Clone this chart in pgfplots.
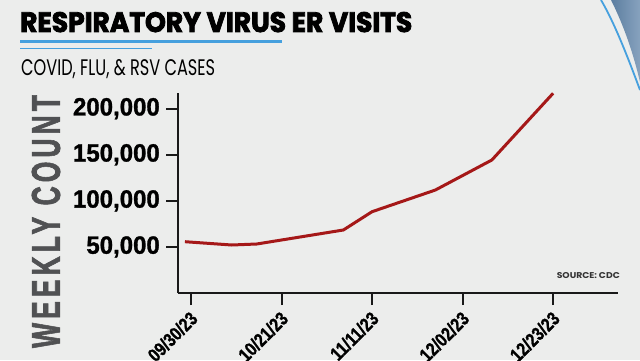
\documentclass[border=0pt]{standalone}
\usepackage{fontspec}
\usepackage{pgfplots}
\pgfplotsset{compat=1.18}
\newfontfamily\tickfont[FakeStretch=0.96, FakeBold=1.2]{Liberation Sans}
\newfontfamily\xtickfont[FakeStretch=0.82, FakeBold=1.2]{Liberation Sans}
\newfontfamily\labfont[LetterSpace=15, FakeBold=2]{Liberation Sans}
\newfontfamily\titlefont[BoldFeatures={FakeBold=3}]{Poppins}
\newfontfamily\subfont{Poppins}
\definecolor{bg}{RGB}{236,237,236}
\definecolor{lineblue}{RGB}{70,160,222}
\definecolor{steel}{RGB}{92,126,160}
\definecolor{steel2}{RGB}{135,162,190}
\definecolor{darkred}{RGB}{165,24,24}
\definecolor{labgray}{RGB}{80,81,83}
\definecolor{axblack}{RGB}{25,25,25}
\begin{document}
\begin{tikzpicture}[x=1pt,y=1pt]
\useasboundingbox (0,0) rectangle (640,360);
\fill[bg] (0,0) rectangle (640,360);
% corner decoration
\shade[left color=steel, right color=steel2] (611,360) .. controls (622,338) and (632,312) .. (640,278) -- (640,360) -- cycle;
\draw[line width=1.8pt, lineblue] (601,360) .. controls (614,338) and (627,305) .. (640,270);
% title
\node[anchor=base west, inner sep=0pt] at (20,328) {\resizebox{392pt}{20pt}{\titlefont\bfseries RESPIRATORY VIRUS ER VISITS}};
\fill[lineblue] (20,316.6) rectangle (282,320);
\fill[lineblue] (20,311.2) rectangle (152,312.4);
\node[anchor=base west, inner sep=0pt] at (21,285) {\resizebox{194pt}{16pt}{\subfont COVID, FLU, \& RSV CASES}};
% y label
\node[rotate=90, inner sep=0pt, text=labgray] at (46,138.5) {\resizebox{253pt}{28pt}{\labfont\bfseries WEEKLY COUNT}};
% source
\node[anchor=base east, inner sep=0pt, text=black!80] at (620,81.5) {\resizebox{63pt}{6pt}{\subfont\bfseries SOURCE: CDC}};
\begin{axis}[
  at={(178pt,67pt)}, anchor=south west,
  scale only axis, width=440pt, height=200pt,
  xmin=-0.43, xmax=14.15, ymin=0, ymax=217000,
  scaled y ticks=false,
  axis x line*=bottom, axis y line*=left,
  axis line style={-, line width=2pt, axblack},
  tick align=outside, major tick length=12pt,
  tick style={line width=2pt, axblack},
  xtick={0,3,6,9,12},
  xticklabels={09/30/23,10/21/23,11/11/23,12/02/23,12/23/23},
  ytick={50000,100000,150000,200000},
  yticklabels={{50,000},{100,000},{150,000},{200,000}},
  /pgf/number format/assume math mode=true,
  yticklabel style={font=\tickfont\bfseries\fontsize{25}{25}\selectfont, text=black, inner sep=0pt, xshift=-6pt},
  xticklabel style={font=\xtickfont\bfseries\fontsize{19}{19}\selectfont, text=black, xshift=-2pt, yshift=-5pt, rotate=45, anchor=north east, inner sep=0pt},
  clip=false,
]
\addplot[darkred, line width=3pt, line join=round] coordinates {
  (-0.2,55660) (1.35,52080) (2.18,53165) (5.05,68355) (6.0,88210) (8.1,111755) (9.97,144305) (12.0,216675)
};
\end{axis}
\end{tikzpicture}
\end{document}
